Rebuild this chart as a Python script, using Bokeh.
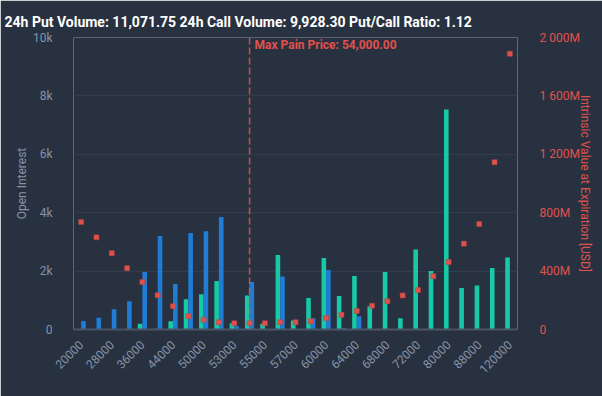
import math
from bokeh.plotting import figure
from bokeh.models import Range1d, LinearAxis, FixedTicker, Span, Label, ColumnDataSource
from bokeh.embed import file_html
from bokeh.resources import INLINE

strikes = ["20000", "25000", "28000", "32000", "36000", "40000", "44000", "48000",
           "50000", "52000", "53000", "54000", "55000", "56000", "57000", "58000",
           "60000", "62000", "64000", "66000", "68000", "70000", "72000", "75000",
           "80000", "85000", "88000", "100000", "120000"]
calls_oi = [0, 0, 0, 0, 195, 25, 285, 1040, 1211, 1657, 216, 1166, 195, 2549, 309,
            1075, 2446, 1143, 1829, 800, 1966, 388, 2744, 2000, 7537, 1418, 1509, 2103, 2470]
puts_oi = [290, 400, 697, 971, 1966, 3200, 1554, 3304, 3362, 3850, 113, 1623, 20, 1818, 20,
           388, 2034, 46, 457, 0, 0, 0, 0, 0, 0, 0, 0, 0, 0]
intrinsic_musd = [736, 631, 523, 420, 325, 235, 160, 91, 67, 50, 43, 43, 43, 50, 50,
                  57, 78, 101, 126, 162, 194, 233, 270, 364, 462, 588, 722, 1146, 1889]
max_pain_strike = "54000"
left_ticks = [0, 2000, 4000, 6000, 8000, 10000]
left_tick_labels = ["0", "2k", "4k", "6k", "8k", "10k"]
right_ticks = [0, 400, 800, 1200, 1600, 2000]
right_tick_labels = ["0", "400M", "800M", "1 200M", "1 600M", "2 000M"]
title_text = "24h Put Volume: 11,071.75  24h Call Volume: 9,928.30  Put/Call Ratio: 1.12"

BG = "#283140"
GRID = "#323c4c"
GREY = "#8793a6"
RED = "#e0514b"
GREEN = "#17c9a6"
BLUE = "#1f7dd6"
FONT = "Roboto"

idx = list(range(len(strikes)))
src = ColumnDataSource(dict(
    xc=[i - 0.15 for i in idx], xp=[i + 0.15 for i in idx], x=idx,
    calls=calls_oi, puts=puts_oi, iv=intrinsic_musd))

p = figure(width=602, height=396, output_backend="svg", toolbar_location=None,
           x_range=Range1d(-0.5, len(strikes) - 0.5), y_range=Range1d(0, 10000),
           min_border_left=73, min_border_right=85, min_border_top=37, min_border_bottom=67)
p.background_fill_color = BG
p.border_fill_color = BG
p.outline_line_color = None

p.title.text = title_text
p.title.text_color = "#ffffff"
p.title.text_font = FONT
p.title.text_font_size = "14px"
p.title.text_font_style = "bold"
p.title.align = "left"
p.title.vertical_align = "top"
p.title.offset = -69
p.title.standoff = 12

p.extra_y_ranges = {"iv": Range1d(0, 2000)}

p.vbar(x="xc", top="calls", width=0.3, source=src, fill_color=GREEN, line_color=None)
p.vbar(x="xp", top="puts", width=0.3, source=src, fill_color=BLUE, line_color=None)
p.scatter(x="x", y="iv", source=src, y_range_name="iv", marker="square", size=5,
          fill_color=RED, line_color="#b84440", line_width=0.5)

mp = strikes.index(max_pain_strike)
p.add_layout(Span(location=mp, dimension="height", line_color=RED, line_width=1.5,
                  line_dash="7 3", line_alpha=0.9))
p.add_layout(Label(x=mp, y=10000, x_offset=5, y_offset=0, text="Max Pain Price: 54,000.00",
                   text_color=RED, text_font=FONT, text_font_size="12px",
                   text_font_style="bold", text_baseline="top"))

# x axis
xa = p.xaxis[0]
xa.ticker = FixedTicker(ticks=idx[::2])
xa.major_label_overrides = {i: strikes[i] for i in idx}
xa.major_label_orientation = math.pi / 4
xa.major_label_text_color = GREY
xa.major_label_text_font = FONT
xa.major_label_text_font_size = "12px"
xa.major_tick_line_color = None
xa.minor_tick_line_color = None
xa.axis_line_color = "#4b5567"
xa.axis_line_width = 2
xa.major_label_standoff = 7

# left axis
ya = p.yaxis[0]
ya.ticker = FixedTicker(ticks=left_ticks)
ya.major_label_overrides = dict(zip(left_ticks, left_tick_labels))
ya.axis_label = "Open Interest"
ya.axis_label_text_color = GREY
ya.axis_label_text_font = FONT
ya.axis_label_text_font_size = "12px"
ya.axis_label_text_font_style = "normal"
ya.axis_label_standoff = 1
ya.major_label_text_color = GREY
ya.major_label_text_font = FONT
ya.major_label_text_font_size = "12px"
ya.major_label_standoff = 15
ya.major_tick_line_color = None
ya.minor_tick_line_color = None
ya.axis_line_color = None

# right axis
ra = LinearAxis(y_range_name="iv", ticker=FixedTicker(ticks=right_ticks))
ra.major_label_overrides = dict(zip(right_ticks, right_tick_labels))
ra.axis_label = "Intrinsic Value at Expiration [USD]"
ra.axis_label_text_color = RED
ra.axis_label_text_font = FONT
ra.axis_label_text_font_size = "12px"
ra.axis_label_text_font_style = "normal"
ra.axis_label_standoff = -5
ra.major_label_text_color = RED
ra.major_label_text_font = FONT
ra.major_label_text_font_size = "12px"
ra.major_label_standoff = 16
ra.major_tick_line_color = None
ra.minor_tick_line_color = None
ra.axis_line_color = None
p.add_layout(ra, "right")

p.xgrid.grid_line_color = None
p.ygrid.grid_line_color = GRID
p.ygrid.grid_line_width = 1

open("out.html", "w").write(file_html(p, INLINE))
